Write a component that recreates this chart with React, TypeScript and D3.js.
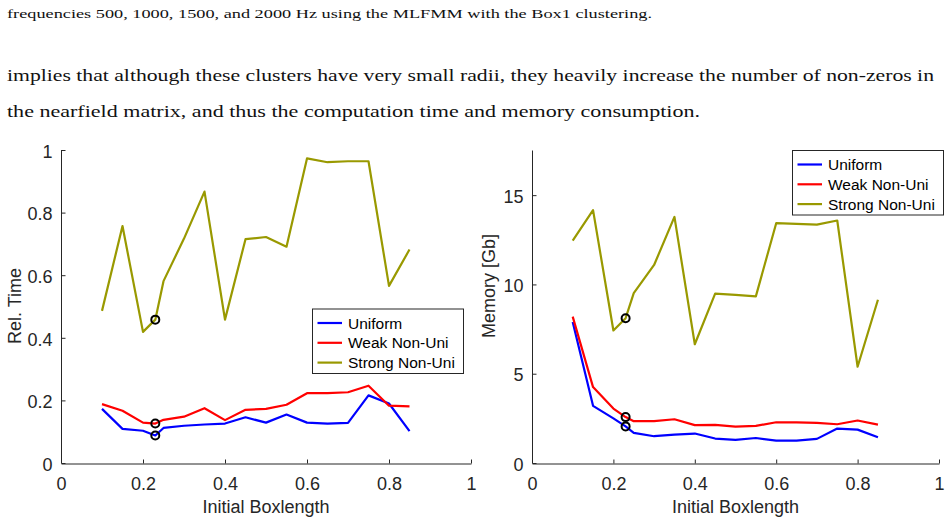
import React, { useEffect, useRef } from 'react';
import * as d3 from 'd3';

// initial boxlength values (the 0.23 point is the circled one)
const boxLength = [0.1, 0.15, 0.2, 0.23, 0.25, 0.3, 0.35, 0.4, 0.45, 0.5, 0.55, 0.6, 0.65, 0.7, 0.75, 0.8, 0.85];
const seriesNames = ['Uniform', 'Weak Non-Uni', 'Strong Non-Uni'];
const seriesColours = ['#0000ff', '#ff0000', '#999900'];

const timeUniform = [0.173, 0.109, 0.103, 0.088, 0.112, 0.119, 0.123, 0.126, 0.146, 0.129, 0.155, 0.129, 0.126, 0.128, 0.216, 0.19, 0.102];
const timeWeak = [0.188, 0.167, 0.129, 0.126, 0.138, 0.148, 0.175, 0.137, 0.17, 0.173, 0.186, 0.223, 0.223, 0.226, 0.247, 0.183, 0.181];
const timeStrong = [0.486, 0.757, 0.419, 0.458, 0.581, 0.717, 0.867, 0.458, 0.715, 0.722, 0.691, 0.973, 0.961, 0.964, 0.964, 0.566, 0.682];

const memUniform = [7.9, 3.2, 2.5, 2.05, 1.69, 1.5, 1.59, 1.65, 1.37, 1.29, 1.4, 1.25, 1.25, 1.35, 1.93, 1.87, 1.44];
const memWeak = [8.2, 4.25, 3.05, 2.57, 2.34, 2.34, 2.45, 2.12, 2.13, 2.04, 2.08, 2.28, 2.28, 2.25, 2.17, 2.38, 2.15];
const memStrong = [12.45, 14.16, 7.42, 8.11, 9.51, 11.09, 13.78, 6.65, 9.49, 9.42, 9.33, 13.43, 13.39, 13.35, 13.58, 5.39, 9.14];

const markerIndex = 3;
const xTicks = [0, 0.2, 0.4, 0.6, 0.8, 1];
const timeTicks = [0, 0.2, 0.4, 0.6, 0.8, 1];
const memTicks = [0, 5, 10, 15];

const paperLines = [
    'frequencies 500, 1000, 1500, and 2000 Hz using the MLFMM with the Box1 clustering.',
    'implies that although these clusters have very small radii, they heavily increase the number of non-zeros in',
    'the nearfield matrix, and thus the computation time and memory consumption.'
];

const axisColour = '#262626';
const sansFont = '"Liberation Sans", Arial, Helvetica, sans-serif';

interface Panel {
    x0: number, x1: number, y0: number, y1: number,
    yMax: number,
    yTicks: number[],
    yLabel: string,
    yLabelPos: [number, number],
    series: number[][],
    legend: [number, number]
}

const panels: Panel[] = [
    {
        x0: 61, x1: 471, y0: 463, y1: 150,
        yMax: 1, yTicks: timeTicks,
        yLabel: 'Rel. Time', yLabelPos: [21, 306],
        series: [timeUniform, timeWeak, timeStrong],
        legend: [312, 308.5]
    },
    {
        x0: 532, x1: 939, y0: 463, y1: 150.5,
        yMax: 17.5, yTicks: memTicks,
        yLabel: 'Memory [Gb]', yLabelPos: [495, 286],
        series: [memUniform, memWeak, memStrong],
        legend: [792, 150]
    }
];

export default function App() {
    const canvas = useRef<SVGSVGElement>(null);

    useEffect(() => {
        const svg = d3.select(canvas.current);
        svg.selectAll('*').remove();

        // paper text above the figure
        const textSpec = [
            { y: 18, size: 12.2, len: 645 },
            { y: 80.5, size: 17, len: 927 },
            { y: 116.5, size: 17, len: 693 }
        ];
        paperLines.forEach((line, i) => {
            svg.append('text')
                .attr('x', 7)
                .attr('y', textSpec[i].y)
                .attr('font-family', '"Liberation Serif", "Times New Roman", serif')
                .attr('font-size', textSpec[i].size)
                .attr('fill', '#111')
                .attr('textLength', textSpec[i].len)
                .attr('lengthAdjust', 'spacingAndGlyphs')
                .text(line);
        });

        panels.forEach((p) => {
            const xScale = d3.scaleLinear().domain([0, 1]).range([p.x0, p.x1]);
            const yScale = d3.scaleLinear().domain([0, p.yMax]).range([p.y0, p.y1]);

            const g = svg.append('g');

            const xAxis = g.append('g')
                .attr('transform', `translate(0,${p.y0 + 0.5})`)
                .call(d3.axisBottom(xScale)
                    .tickValues(xTicks)
                    .tickFormat((d: any) => String(d))
                    .tickSizeInner(-4)
                    .tickSizeOuter(0)
                    .tickPadding(14));

            const yAxis = g.append('g')
                .attr('transform', `translate(${p.x0 + 0.5},0)`)
                .call(d3.axisLeft(yScale)
                    .tickValues(p.yTicks)
                    .tickFormat((d: any) => String(d))
                    .tickSizeInner(-4)
                    .tickSizeOuter(0)
                    .tickPadding(9));

            // extend y axis to the top of the box
            yAxis.select('.domain').attr('d', `M0,${p.y0}V${p.y1}`);

            [xAxis, yAxis].forEach((ax) => {
                ax.select('.domain').attr('stroke', axisColour);
                ax.selectAll('line').attr('stroke', axisColour);
                ax.selectAll('text')
                    .attr('fill', axisColour)
                    .attr('font-size', 18)
                    .attr('font-family', sansFont);
            });
            yAxis.selectAll('text').attr('dy', '0.4em');

            g.append('text')
                .attr('x', (p.x0 + p.x1) / 2)
                .attr('y', 513)
                .attr('text-anchor', 'middle')
                .attr('font-size', 18)
                .attr('font-family', sansFont)
                .attr('fill', axisColour)
                .text('Initial Boxlength');

            g.append('text')
                .attr('transform', `translate(${p.yLabelPos[0]},${p.yLabelPos[1]}) rotate(-90)`)
                .attr('text-anchor', 'middle')
                .attr('font-size', 18)
                .attr('font-family', sansFont)
                .attr('fill', axisColour)
                .text(p.yLabel);

            const line = d3.line<number>()
                .x((d, i) => xScale(boxLength[i]))
                .y((d) => yScale(d));

            p.series.forEach((s, k) => {
                g.append('path')
                    .datum(s)
                    .attr('d', line)
                    .attr('fill', 'none')
                    .attr('stroke', seriesColours[k])
                    .attr('stroke-width', 2.2)
                    .attr('stroke-linejoin', 'round');
            });

            p.series.forEach((s) => {
                g.append('circle')
                    .attr('cx', xScale(boxLength[markerIndex]))
                    .attr('cy', yScale(s[markerIndex]))
                    .attr('r', 4)
                    .attr('fill', 'none')
                    .attr('stroke', '#000')
                    .attr('stroke-width', 2);
            });

            // legend
            const [lx, ly] = p.legend;
            const leg = g.append('g').attr('transform', `translate(${lx},${ly})`);
            leg.append('rect')
                .attr('x', 0.5).attr('y', 0.5)
                .attr('width', 151).attr('height', 64.5)
                .attr('fill', '#fff')
                .attr('stroke', axisColour)
                .attr('stroke-width', 1);
            seriesNames.forEach((name, k) => {
                const yy = 14.5 + k * 19.8;
                leg.append('line')
                    .attr('x1', 5.5).attr('x2', 30)
                    .attr('y1', yy).attr('y2', yy)
                    .attr('stroke', seriesColours[k])
                    .attr('stroke-width', 2.2);
                leg.append('text')
                    .attr('x', 36)
                    .attr('y', yy)
                    .attr('dy', '0.36em')
                    .attr('font-size', 15.5)
                    .attr('font-family', sansFont)
                    .attr('fill', '#000')
                    .text(name);
            });
        });
    }, []);

    return (
        <svg
            ref={canvas}
            width={950}
            height={523}
            style={{ position: 'absolute', left: 0, top: 0, background: '#fff' }}
        />
    );
}
